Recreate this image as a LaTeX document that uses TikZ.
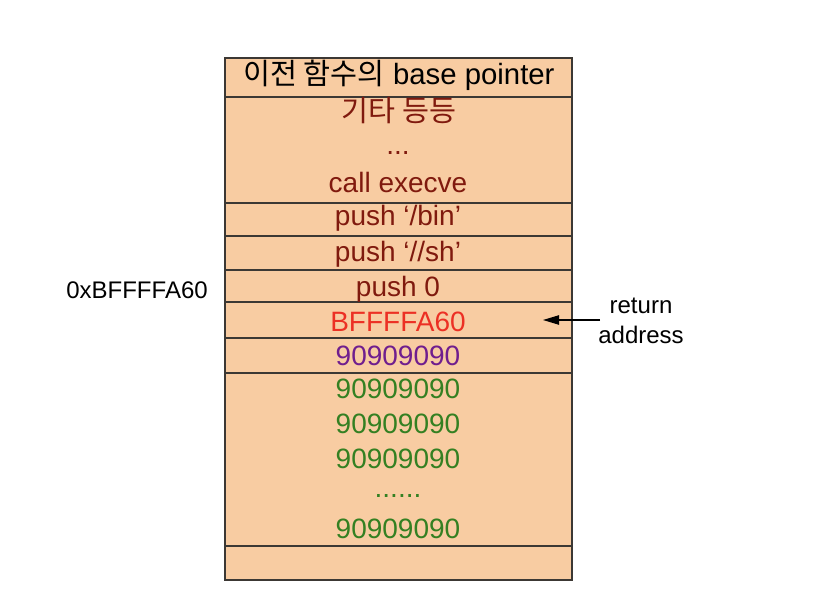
\documentclass[tikz,border=0pt]{standalone}
\usepackage{fontspec}
\setmainfont{Liberation Sans}
\newfontfamily\kr{Noto Sans CJK KR}
\usetikzlibrary{arrows.meta}
\definecolor{cellfill}{RGB}{248,204,162}
\definecolor{darkred}{RGB}{128,26,14}
\definecolor{brightred}{RGB}{236,48,36}
\definecolor{nopurple}{RGB}{112,30,142}
\definecolor{nopgreen}{RGB}{52,128,34}
\definecolor{edge}{RGB}{60,56,52}
\begin{document}
\begin{tikzpicture}[x=0.75pt,y=-0.75pt,
  cell/.style={draw=edge,line width=1.1pt,fill=cellfill},
  big/.style={inner sep=0pt,font=\fontsize{21}{25}\selectfont},
  lbl/.style={inner sep=0pt,font=\fontsize{18}{22}\selectfont},
  ]
\useasboundingbox (0,0) rectangle (814,606);
% cells
\path[cell] (225,58) rectangle (572,97);
\path[cell] (225,97) rectangle (572,203);
\path[cell] (225,203) rectangle (572,236);
\path[cell] (225,236) rectangle (572,270);
\path[cell] (225,270) rectangle (572,302);
\path[cell] (225,302) rectangle (572,338);
\path[cell] (225,338) rectangle (572,373);
\path[cell] (225,373) rectangle (572,546);
\path[cell] (225,546) rectangle (572,580);
% texts
\node[big,font=\fontsize{22}{26}\selectfont] (t1) at (399,75) {{\kr 이전 함수의} base pointer};
\node[big,text=darkred,font=\fontsize{22}{26}\selectfont] (t2) at (399,111) {\kr 기타 등등};
\node[big,text=darkred,anchor=base] (t3) at (398,155) {...};
\node[big,text=darkred] (t4) at (398,182) {call execve};
\node[big,text=darkred] (t5) at (398,218) {push ‘/bin’};
\node[big,text=darkred] (t6) at (398,254) {push ‘//sh’};
\node[big,text=darkred] (t7) at (398,289) {push 0};
\node[big,text=brightred] (t8) at (398,322) {BFFFFA60};
\node[big,text=nopurple] (t9) at (398,356) {90909090};
\node[big,text=nopgreen] (g1) at (398,389) {90909090};
\node[big,text=nopgreen] (g2) at (398,424) {90909090};
\node[big,text=nopgreen] (g3) at (398,459) {90909090};
\node[big,text=nopgreen,anchor=base] (g4) at (398,497) {......};
\node[big,text=nopgreen] (g5) at (398,529) {90909090};
% labels
\node[lbl] (addr) at (137,290) {0xBFFFFA60};
\node[lbl,align=center] (ret) at (641,321) {return\\[0pt]address};
\coordinate (arrS) at (600,320);
\coordinate (arrE) at (543,320);
\draw[line width=0.9pt,-{Triangle[length=12pt,width=7pt]}] (arrS) -- (arrE);
\end{tikzpicture}
\end{document}
